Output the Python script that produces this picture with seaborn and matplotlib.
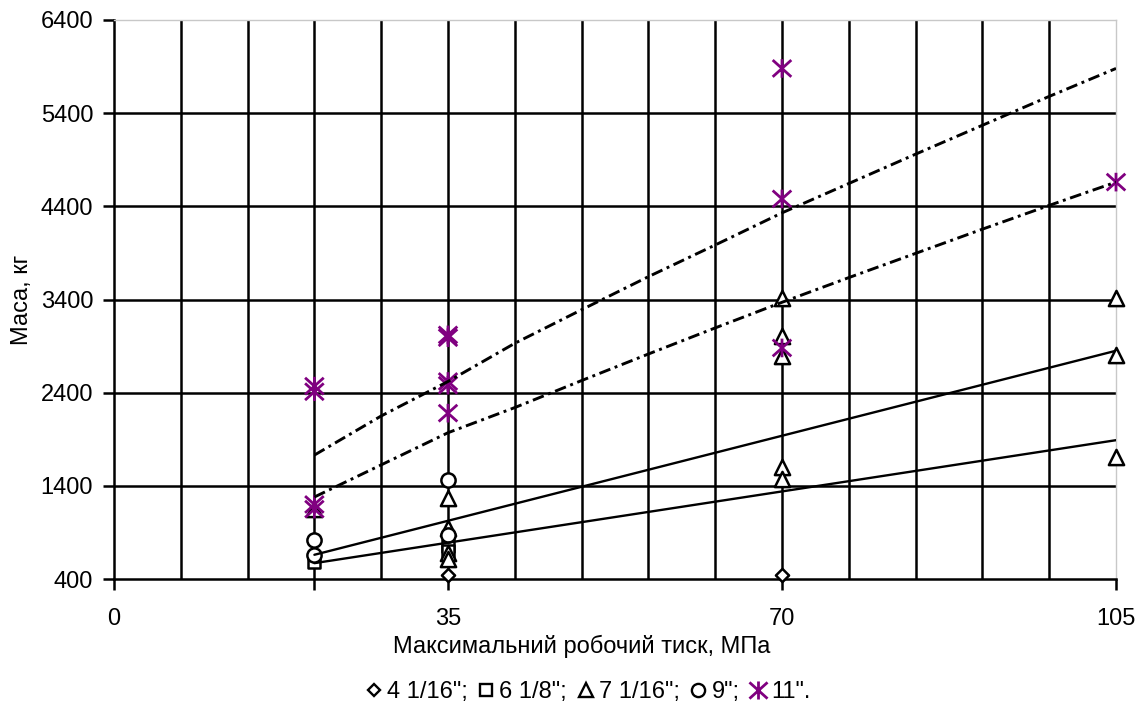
import numpy as np
import pandas as pd
import matplotlib
matplotlib.use("Agg")
import matplotlib.pyplot as plt
from matplotlib.path import Path
from matplotlib.lines import Line2D
from matplotlib.ticker import FixedLocator
import seaborn as sns

sns.set_style("white")
plt.rcParams['font.family'] = ['Liberation Sans', 'DejaVu Sans']
plt.rcParams['text.color'] = 'black'
plt.rcParams['xtick.color'] = 'black'
plt.rcParams['ytick.color'] = 'black'

# ---------------- data ----------------
series_names = ['4 1/16";', '6 1/8";', '7 1/16";', '9";', '11".']

x_4116 = [35, 70]
y_4116 = [440, 445]

x_618 = [21, 35, 35]
y_618 = [580, 750, 705]

x_7116 = [21, 35, 35, 35, 35, 70, 70, 70, 70, 70, 105, 105, 105]
y_7116 = [1150, 1270, 950, 680, 620, 3415, 3010, 2790, 1600, 1470, 3415, 2800, 1710]

x_9 = [21, 21, 35, 35]
y_9 = [820, 660, 1460, 870]

x_11 = [21, 21, 21, 21, 35, 35, 35, 35, 35, 70, 70, 70, 105]
y_11 = [2470, 2410, 1200, 1150, 3020, 2990, 2520, 2480, 2180, 5880, 4480, 2880, 4660]

# trend lines, values
trend_solid_x = [21, 105]
trend_solid_a = [660, 2850]
trend_solid_b = [570, 1890]
trend_curve_x = [21, 28, 35, 42, 49, 56, 63, 70, 77, 84, 91, 98, 105]
trend_dashdot_a = [1730, 2150, 2520, 2930, 3290, 3645, 3985, 4330, 4645, 4960, 5270, 5580, 5880]
trend_dashdot_b = [1280, 1625, 1970, 2240, 2530, 2815, 3095, 3370, 3635, 3895, 4155, 4410, 4660]

x_ticks = [0, 21, 35, 70, 105]
x_tick_labels = ['0', '', '35', '70', '105']
y_ticks = [400, 1400, 2400, 3400, 4400, 5400, 6400]
x_grid = list(range(7, 105, 7))
y_grid = [1400, 2400, 3400, 4400, 5400]

# ---------------- figure ----------------
fig = plt.figure(figsize=(11.39, 7.09), dpi=100)
ax = fig.add_axes([114 / 1139, 1 - 579 / 709, (1116 - 114) / 1139, (579 - 20) / 709])

star_path = Path(
    [(-1, -0.9), (1, 0.9), (-1, 0.9), (1, -0.9), (0, -1), (0, 1)],
    [Path.MOVETO, Path.LINETO, Path.MOVETO, Path.LINETO, Path.MOVETO, Path.LINETO],
)
purple = '#800080'
FS = 17

styles = [
    (x_4116, y_4116, 'D', 45, 'black'),
    (x_618, y_618, 's', 80, 'black'),
    (x_7116, y_7116, '^', 120, 'black'),
    (x_9, y_9, 'o', 105, 'black'),
]
for xs, ys, mk, sz, col in styles:
    sns.scatterplot(x=xs, y=ys, marker=mk, s=sz, facecolor='white', edgecolor=col,
                    linewidth=1.8, ax=ax, legend=False, zorder=4, clip_on=False)
sns.scatterplot(x=x_11, y=y_11, marker=star_path, s=180, facecolor='none', edgecolor=purple,
                color=purple, linewidth=2.0, ax=ax, legend=False, zorder=4, clip_on=False)

# trend lines
sns.lineplot(x=trend_solid_x, y=trend_solid_a, color='black', linewidth=1.7, ax=ax, zorder=5)
sns.lineplot(x=trend_solid_x, y=trend_solid_b, color='black', linewidth=1.7, ax=ax, zorder=5)
dd = (0, (4, 1.6, 1, 1.6))
sns.lineplot(x=trend_curve_x, y=trend_dashdot_a, color='black', linewidth=2.1, ax=ax, zorder=5,
             linestyle=dd)
sns.lineplot(x=trend_curve_x, y=trend_dashdot_b, color='black', linewidth=2.1, ax=ax, zorder=5,
             linestyle=dd)

# axes
ax.set_xlim(0, 105)
ax.set_ylim(400, 6400)
ax.xaxis.remove_overlapping_locs = False
ax.yaxis.remove_overlapping_locs = False
ax.set_xticks(x_ticks)
ax.set_xticklabels(x_tick_labels)
ax.set_yticks(y_ticks)
ax.xaxis.set_minor_locator(FixedLocator(x_grid))
ax.yaxis.set_minor_locator(FixedLocator(y_grid))
ax.grid(False)
ax.grid(True, which='minor', axis='both', color='black', linewidth=1.8)
ax.set_axisbelow(True)
ax.tick_params(axis='both', which='minor', length=0)
ax.tick_params(axis='both', which='major', length=8, width=1.8, color='black',
               labelsize=FS, direction='out', labelcolor='black')
ax.tick_params(axis='x', pad=13)
ax.tick_params(axis='y', pad=7)
ax.tick_params(left=True, bottom=True)

for side in ['left', 'bottom']:
    ax.spines[side].set_color('black')
    ax.spines[side].set_linewidth(1.8)
for side in ['top', 'right']:
    ax.spines[side].set_color('#c8c8c8')
    ax.spines[side].set_linewidth(1.0)
    ax.spines[side].set_visible(True)

ax.set_xlabel('')
ax.set_ylabel('')
fig.text(582 / 1139, 1 - 646 / 709, 'Максимальний робочий тиск, МПа', ha='center', va='center',
         fontsize=FS)
fig.text(22 / 1139, 1 - 300 / 709, 'Маса, кг', ha='center', va='center', rotation=90,
         fontsize=FS)

# legend
handles = [
    Line2D([], [], linestyle='none', marker='D', markersize=6.3, markerfacecolor='white',
           markeredgecolor='black', markeredgewidth=1.7),
    Line2D([], [], linestyle='none', marker='s', markersize=8.5, markerfacecolor='white',
           markeredgecolor='black', markeredgewidth=1.7),
    Line2D([], [], linestyle='none', marker='^', markersize=10, markerfacecolor='white',
           markeredgecolor='black', markeredgewidth=1.7),
    Line2D([], [], linestyle='none', marker='o', markersize=9.5, markerfacecolor='white',
           markeredgecolor='black', markeredgewidth=1.7),
    Line2D([], [], linestyle='none', marker=star_path, markersize=13, markerfacecolor='none',
           markeredgecolor=purple, markeredgewidth=2.0),
]
fig.legend(handles, series_names, loc='center', bbox_to_anchor=(588 / 1139, 1 - 692 / 709),
           ncol=5, frameon=False, fontsize=FS, handlelength=0.7, handletextpad=0.2,
           columnspacing=0.45, borderpad=0.2)

fig.savefig('out.png', dpi=100)
